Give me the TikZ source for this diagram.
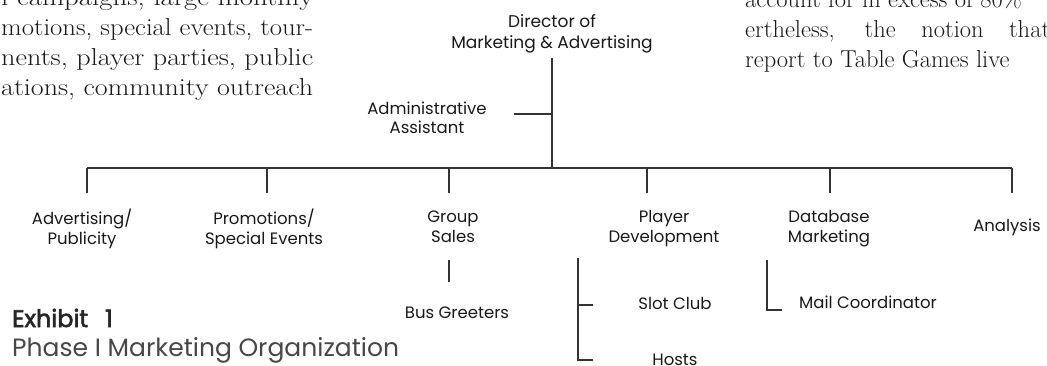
\documentclass[tikz,border=0pt]{standalone}
\usepackage{fontspec}
\usepackage{graphicx}
\newfontfamily\av{Poppins}
\newfontfamily\avb{Poppins}[FakeBold=2.5]
\newcommand{\fitline}[1]{\resizebox{312pt}{\height}{#1}}
\begin{document}
\begin{tikzpicture}[x=1pt,y=-1pt,
  lab/.style={font=\av\fontsize{16.5}{20}\selectfont, align=center, inner sep=0pt, text=black!90},
  body/.style={font=\fontsize{24.5}{30}\selectfont, inner sep=0pt, text=black!90},
  ln/.style={line width=1.1pt, draw=black!80}]
\useasboundingbox (0,0) rectangle (1047,366);
\clip (0,0) rectangle (1047,366);
% body text, left column
\node[body, anchor=base west] (l1) at (1,6)  {\fitline{l campaigns, large monthly}};
\node[body, anchor=base west] (l2) at (1,36) {\fitline{motions, special events, tour-}};
\node[body, anchor=base west] (l3) at (1,66) {\fitline{nents, player parties, public}};
\node[body, anchor=base west] (l4) at (1,96) {\fitline{ations, community outreach}};
% body text, right column
\node[body, anchor=base west] (r1) at (745,8)  {account for in excess of 80\%};
\node[body, anchor=base west] (r2) at (745,38) {\makebox[305pt][s]{ertheless, the notion that}};
\node[body, anchor=base west] (r3) at (745,68) {report to Table Games live};
% chart
\node[lab, font=\av\fontsize{17}{21}\selectfont] (dir) at (552,33.5) {Director of\\Marketing \& Advertising};
\node[lab, font=\av\fontsize{16.5}{19}\selectfont] (adm) at (427,117.5) {Administrative\\Assistant};
\node[lab] (adv) at (82,229) {Advertising/\\Publicity};
\node[lab] (pro) at (264,229) {Promotions/\\Special Events};
\node[lab] (grp) at (453,227) {Group\\Sales};
\node[lab] (ply) at (664,229) {Player\\Development};
\node[lab] (dbm) at (829,229) {Database\\Marketing};
\node[lab, anchor=base] (ana) at (1007,232) {Analysis};
\node[lab, anchor=base] (bus) at (457,318) {Bus Greeters};
\node[lab, anchor=base] (slot) at (675,309) {Slot Club};
\node[lab, anchor=base] (hosts) at (675,365) {Hosts};
\node[lab, anchor=base] (mail) at (868,308) {Mail Coordinator};
\node[inner sep=0pt, anchor=base west, font=\avb\fontsize{24}{26}\selectfont, text=black!85] (ex) at (12,327) {Exhibit\hspace{17pt}1};
\node[inner sep=0pt, anchor=base west, font=\av\fontsize{25}{28}\selectfont, text=black!72] (ph) at (12,356) {Phase I Marketing Organization};
% connectors
\coordinate (bm) at (552,168);
\coordinate (am) at (552,114);
\draw[ln] ([yshift=-5pt]dir.south) -- (bm);
\draw[ln] (am) -- ([xshift=27pt]adm.east |- am);
\coordinate (b1) at (87,168);
\coordinate (b2) at (267,168);
\coordinate (b3) at (449,168);
\coordinate (b4) at (647,168);
\coordinate (b5) at (830,168);
\coordinate (b6) at (1012,168);
\draw[ln] (b1) -- (b6);
\foreach \i in {1,...,6} \draw[ln] (b\i) -- ++(0,25);
\coordinate (g1) at (449,260);
\coordinate (g2) at (449,282);
\draw[ln] (g1) -- (g2);
\coordinate (p1) at (578,258);
\coordinate (p2) at (578,305);
\coordinate (p3) at (578,360);
\draw[ln] (p1) -- (p3) -- ++(15,0);
\draw[ln] (p2) -- ++(15,0);
\coordinate (d1) at (767,260);
\coordinate (d2) at (767,310);
\draw[ln] (d1) -- (d2) -- ++(15,0);
\end{tikzpicture}
\end{document}
